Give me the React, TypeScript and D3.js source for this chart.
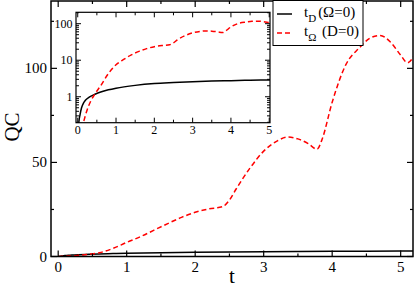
import React, { useEffect, useRef } from "react";
import * as d3 from "d3";

// t_D (Omega=0) curve
const tD = [0, 0.03, 0.06, 0.1, 0.15, 0.2, 0.3, 0.45, 0.6, 0.8, 1.0, 1.5, 2.0, 2.5, 3.0, 3.5, 4.0, 4.5, 5.0, 5.2];
const qcD = [0.05, 0.2, 0.32, 0.5, 0.67, 0.8, 0.98, 1.17, 1.35, 1.55, 1.72, 2.05, 2.3, 2.45, 2.58, 2.68, 2.76, 2.83, 2.88, 2.9];

// t_Omega (D=0) curve
const tO = [0, 0.15, 0.25, 0.35, 0.45, 0.6, 0.8, 1.0, 1.2, 1.4, 1.6, 1.8, 2.0, 2.2, 2.4, 2.5, 2.6, 2.8, 3.0, 3.2, 3.35, 3.5, 3.65, 3.78, 3.85, 4.0, 4.2, 4.4, 4.55, 4.7, 4.85, 5.0, 5.1, 5.2];
const qcO = [0.05, 0.2, 0.45, 0.8, 1.2, 2.0, 4.3, 7.5, 10.5, 14, 17.5, 20.8, 23.5, 25.3, 26.5, 30, 36, 47, 56, 61.5, 63.5, 62.5, 60, 57, 62, 82, 102, 111, 116, 117.5, 114, 107, 103, 107];

const mainXTicks = [0, 1, 2, 3, 4, 5];
const mainXMinor = [0.5, 1.5, 2.5, 3.5, 4.5];
const mainYTicks = [0, 50, 100];
const mainYMinor = [25, 75, 125];
const insetXTicks = [0, 1, 2, 3, 4, 5];
const insetYTicks = [1, 10, 100];

const legendItems = [
  { main: "t", sub: "D", rest: "(\u03A9=0)", color: "#000", dash: null },
  { main: "t", sub: "\u03A9", rest: " (D=0)", color: "#ff0000", dash: "5,3" },
];

const FONT = "'Liberation Serif', 'DejaVu Serif', serif";

export default function App() {
  const ref = useRef<SVGSVGElement>(null);

  useEffect(() => {
    const svg = d3.select(ref.current);
    svg.selectAll("*").remove();

    const dataD = tD.map((t, i) => ({ t, v: qcD[i] }));
    const dataO = tO.map((t, i) => ({ t, v: qcO[i] }));

    // main panel
    const x = d3.scaleLinear().domain([-0.105, 5.18]).range([51, 413]);
    const y = d3.scaleLinear().domain([0, 135.8]).range([256.5, 1]);

    svg.append("clipPath").attr("id", "mainClip")
      .append("rect").attr("x", 51).attr("y", 1).attr("width", 362).attr("height", 255.5);

    const line = d3.line<{ t: number; v: number }>()
      .x((d) => x(d.t)).y((d) => y(d.v)).curve(d3.curveMonotoneX);

    const g = svg.append("g");
    g.append("path").datum(dataD).attr("d", line)
      .attr("fill", "none").attr("stroke", "#000").attr("stroke-width", 1.5)
      .attr("clip-path", "url(#mainClip)");
    g.append("path").datum(dataO).attr("d", line)
      .attr("fill", "none").attr("stroke", "#ff0000").attr("stroke-width", 1.5)
      .attr("stroke-dasharray", "5,3")
      .attr("clip-path", "url(#mainClip)");

    // ticks (inward, on all 4 sides)
    const [x0, x1] = x.range();
    const [y0, y1] = y.range();
    const tk = (arr: number[], len: number) => {
      arr.forEach((v) => {
        g.append("line").attr("x1", x(v)).attr("x2", x(v)).attr("y1", y0).attr("y2", y0 - len)
          .attr("stroke", "#000").attr("stroke-width", 1.2);
        g.append("line").attr("x1", x(v)).attr("x2", x(v)).attr("y1", y1).attr("y2", y1 + len)
          .attr("stroke", "#000").attr("stroke-width", 1.2);
      });
    };
    tk(mainXTicks, 6);
    tk(mainXMinor, 3);
    const tky = (arr: number[], len: number) => {
      arr.forEach((v) => {
        g.append("line").attr("x1", x0).attr("x2", x0 + len).attr("y1", y(v)).attr("y2", y(v))
          .attr("stroke", "#000").attr("stroke-width", 1.2);
        g.append("line").attr("x1", x1).attr("x2", x1 - len).attr("y1", y(v)).attr("y2", y(v))
          .attr("stroke", "#000").attr("stroke-width", 1.2);
      });
    };
    tky(mainYTicks, 6);
    tky(mainYMinor, 3);

    g.append("rect").attr("x", x0).attr("y", y1).attr("width", x1 - x0).attr("height", y0 - y1)
      .attr("fill", "none").attr("stroke", "#000").attr("stroke-width", 1.5);

    g.selectAll(".xl").data(mainXTicks).join("text")
      .attr("x", (d) => x(d)).attr("y", 272).attr("text-anchor", "middle")
      .attr("font-family", FONT).attr("font-size", 15).text((d) => d);
    g.selectAll(".yl").data(mainYTicks).join("text")
      .attr("x", 47).attr("y", (d) => y(d) + 5).attr("text-anchor", "end")
      .attr("font-family", FONT).attr("font-size", 15).text((d) => d);

    g.append("text").attr("x", 232).attr("y", 283).attr("text-anchor", "middle")
      .attr("font-family", FONT).attr("font-size", 21).text("t");
    g.append("text").attr("transform", "translate(19,127) rotate(-90)").attr("text-anchor", "middle")
      .attr("font-family", FONT).attr("font-size", 21).text("QC");

    // inset panel
    const ix = d3.scaleLinear().domain([-0.045, 5.02]).range([76, 270]);
    const iy = d3.scaleLog().domain([0.195, 205]).range([122.7, 12.3]);
    const [ix0, ix1] = ix.range();
    const [iy0, iy1] = iy.range();

    svg.append("clipPath").attr("id", "insetClip")
      .append("rect").attr("x", ix0).attr("y", iy1).attr("width", ix1 - ix0).attr("height", iy0 - iy1);

    const ig = svg.append("g");
    ig.append("rect").attr("x", ix0).attr("y", iy1).attr("width", ix1 - ix0).attr("height", iy0 - iy1)
      .attr("fill", "#fff");

    const iline = d3.line<{ t: number; v: number }>()
      .x((d) => ix(d.t)).y((d) => iy(d.v)).curve(d3.curveMonotoneX);
    ig.append("path").datum(dataD).attr("d", iline)
      .attr("fill", "none").attr("stroke", "#000").attr("stroke-width", 1.5)
      .attr("clip-path", "url(#insetClip)");
    ig.append("path").datum(dataO).attr("d", iline)
      .attr("fill", "none").attr("stroke", "#ff0000").attr("stroke-width", 1.5)
      .attr("stroke-dasharray", "5,3")
      .attr("clip-path", "url(#insetClip)");

    const itx = (v: number, len: number) => {
      ig.append("line").attr("x1", ix(v)).attr("x2", ix(v)).attr("y1", iy0).attr("y2", iy0 - len)
        .attr("stroke", "#000").attr("stroke-width", 1);
      ig.append("line").attr("x1", ix(v)).attr("x2", ix(v)).attr("y1", iy1).attr("y2", iy1 + len)
        .attr("stroke", "#000").attr("stroke-width", 1);
    };
    d3.range(0, 5.01, 0.5).forEach((v) => itx(v, Number.isInteger(v) ? 5 : 3));

    const ity = (v: number, len: number) => {
      ig.append("line").attr("x1", ix0).attr("x2", ix0 + len).attr("y1", iy(v)).attr("y2", iy(v))
        .attr("stroke", "#000").attr("stroke-width", 1);
      ig.append("line").attr("x1", ix1).attr("x2", ix1 - len).attr("y1", iy(v)).attr("y2", iy(v))
        .attr("stroke", "#000").attr("stroke-width", 1);
    };
    iy.ticks().filter((v) => v >= 0.195 && v <= 205).forEach((v) => {
      const major = insetYTicks.includes(v);
      ity(v, major ? 5 : 3);
    });

    ig.append("rect").attr("x", ix0).attr("y", iy1).attr("width", ix1 - ix0).attr("height", iy0 - iy1)
      .attr("fill", "none").attr("stroke", "#000").attr("stroke-width", 1.2);

    ig.selectAll(".ixl").data(insetXTicks).join("text")
      .attr("x", (d) => ix(d)).attr("y", 133.5).attr("text-anchor", "middle")
      .attr("font-family", FONT).attr("font-size", 12).text((d) => d);
    ig.selectAll(".iyl").data(insetYTicks).join("text")
      .attr("x", 72.5).attr("y", (d) => iy(d) + 4).attr("text-anchor", "end")
      .attr("font-family", FONT).attr("font-size", 12).text((d) => d);

    // legend
    const lg = svg.append("g");
    lg.append("rect").attr("x", 273).attr("y", 0.5).attr("width", 90).attr("height", 45)
      .attr("fill", "#fff").attr("stroke", "#000").attr("stroke-width", 1);
    legendItems.forEach((it, i) => {
      const ly = 14 + i * 19;
      const l = lg.append("line").attr("x1", 277).attr("x2", 292).attr("y1", ly).attr("y2", ly)
        .attr("stroke", it.color).attr("stroke-width", 1.5);
      if (it.dash) l.attr("stroke-dasharray", it.dash);
      const txt = lg.append("text").attr("x", 304).attr("y", ly + 3)
        .attr("font-family", FONT).attr("font-size", 15);
      txt.append("tspan").text(it.main);
      txt.append("tspan").attr("dy", 5).attr("font-size", 11).text(it.sub);
      txt.append("tspan").attr("dy", -5).attr("dx", 2).text(it.rest);
    });
  }, []);

  return (
    <svg ref={ref} width={415} height={287}
      style={{ position: "absolute", left: 0, top: 0, background: "#fff" }} />
  );
}
